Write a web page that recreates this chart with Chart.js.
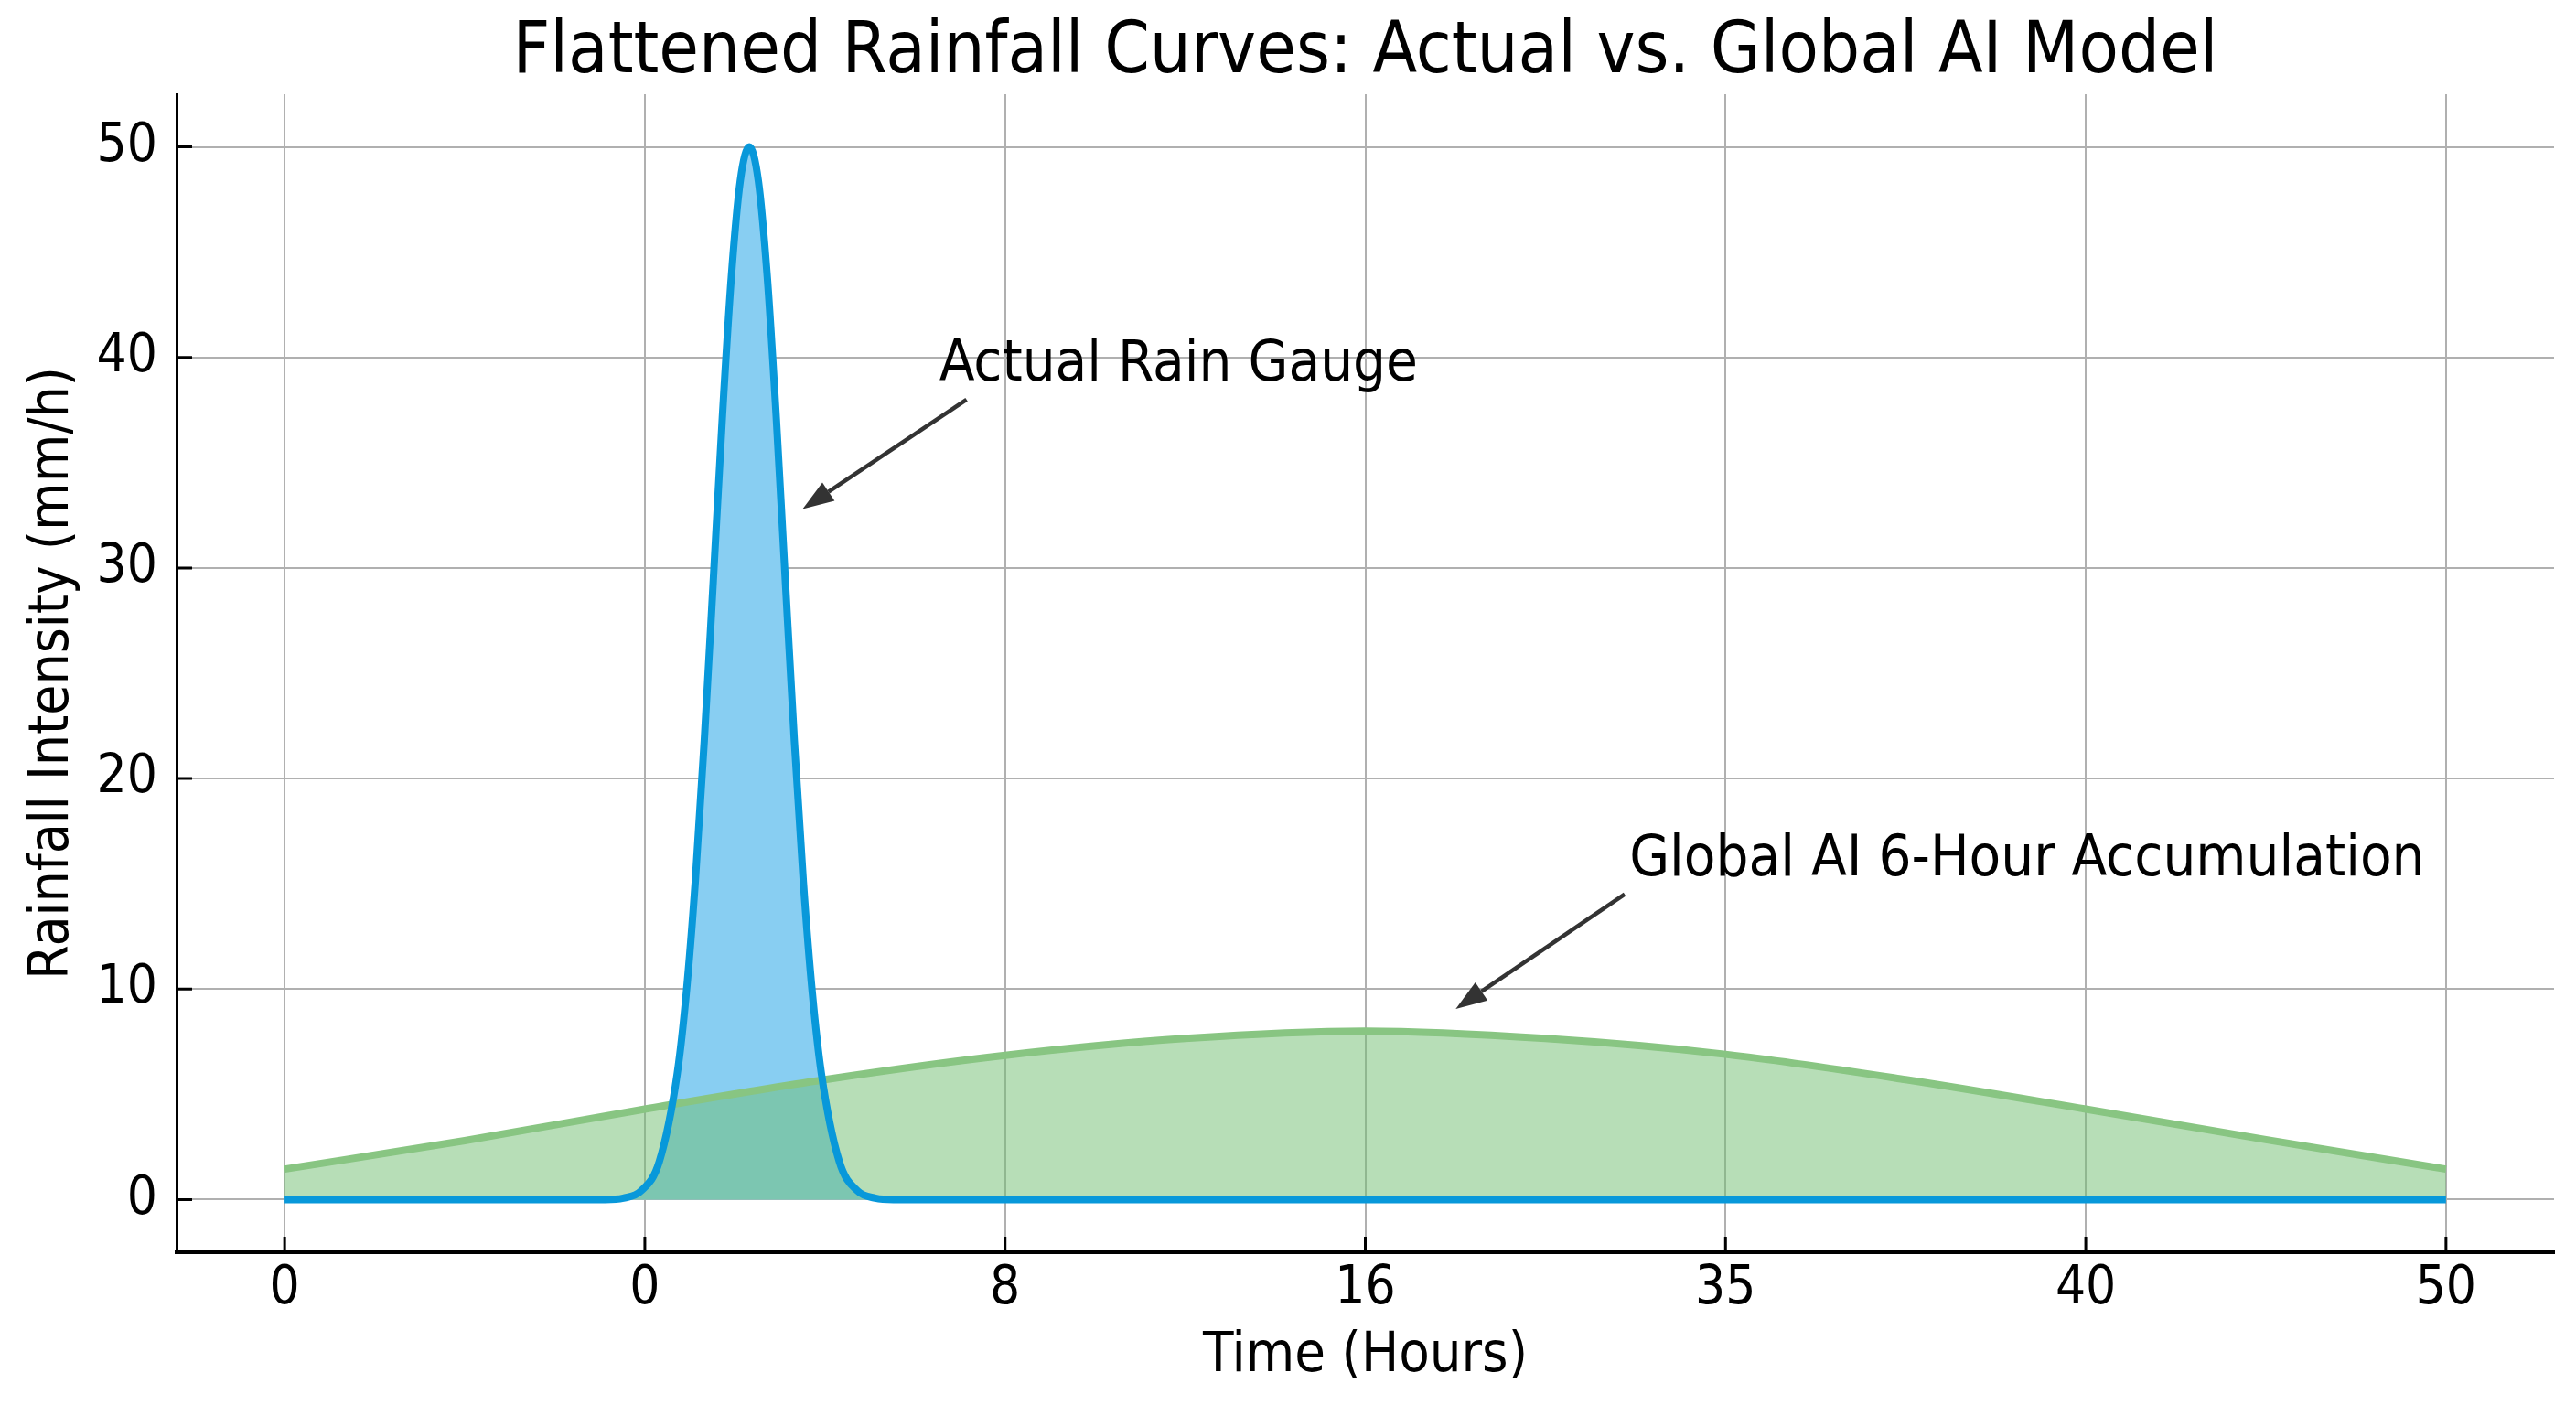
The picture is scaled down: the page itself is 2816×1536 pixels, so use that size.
<!DOCTYPE html>
<html>
<head>
<meta charset="utf-8">
<title>Flattened Rainfall Curves</title>
<script src="https://cdn.jsdelivr.net/npm/chart.js@4.4.1/dist/chart.umd.min.js"></script>
<style>
  html, body { margin: 0; padding: 0; background: #ffffff; }
  canvas { display: block; }
</style>
</head>
<body>
<canvas id="rainChart" width="2816" height="1536"></canvas>
<script>
// x positions are tick slots (0..6); the axis shows the labels below
const xTickLabels = ['0', '0', '8', '16', '35', '40', '50'];
const xTickSlots = [0, 1, 2, 3, 4, 5, 6];
const yTickValues = [0, 10, 20, 30, 40, 50];

// Actual rain gauge - one sharp burst
const gaugeSlot = [0, 0.5, 0.89, 0.94, 0.99, 1.04, 1.09, 1.115, 1.14, 1.165, 1.19, 1.215, 1.24, 1.265,
  1.29, 1.315, 1.34, 1.365, 1.39, 1.415, 1.44, 1.465, 1.49, 1.54, 1.59, 1.64, 1.69, 2, 3, 4, 5, 6];
const gaugeRain = [0, 0, 0, 0.07, 0.42, 1.8, 6.0, 9.8, 15.1, 21.8, 29.4, 37.1, 43.8, 48.4,
  50, 48.4, 43.8, 37.1, 29.4, 21.8, 15.1, 9.8, 6.0, 1.8, 0.42, 0.07, 0, 0, 0, 0, 0, 0];

// Global AI model - flattened 6-hour accumulation
const modelSlot = [0, 0.5, 1, 1.5, 2, 2.5, 3, 3.5, 4, 4.5, 5, 5.5, 6];
const modelRain = [1.45, 2.8, 4.3, 5.7, 6.85, 7.65, 8.0, 7.65, 6.9, 5.7, 4.3, 2.85, 1.45];

const FONT = '"DejaVu Sans Condensed", "DejaVu Sans", sans-serif';

// Text labels with arrows, in data units (slot, mm/h)
const callouts = [
  { text: 'Actual Rain Gauge', at: [1.817, 38.9], from: [1.893, 38.0], to: [1.438, 32.8] },
  { text: 'Global AI 6-Hour Accumulation', at: [3.733, 15.4], from: [3.720, 14.5], to: [3.251, 9.06] },
];

const toPoints = (xs, ys) => xs.map((x, i) => ({ x: x, y: ys[i] }));

// Draw the callout texts and arrows on top of the curves
const calloutPlugin = {
  id: 'callouts',
  afterDatasetsDraw(chart) {
    const ctx = chart.ctx;
    const xs = chart.scales.x;
    const ys = chart.scales.y;
    ctx.save();
    callouts.forEach((c) => {
      ctx.font = '63px ' + FONT;
      ctx.fillStyle = '#000000';
      ctx.textAlign = 'left';
      ctx.textBaseline = 'alphabetic';
      ctx.fillText(c.text, xs.getPixelForValue(c.at[0]), ys.getPixelForValue(c.at[1]));

      const x0 = xs.getPixelForValue(c.from[0]);
      const y0 = ys.getPixelForValue(c.from[1]);
      const x1 = xs.getPixelForValue(c.to[0]);
      const y1 = ys.getPixelForValue(c.to[1]);
      const ang = Math.atan2(y1 - y0, x1 - x0);
      const headLen = 34;
      const headHalf = 12;
      const bx = x1 - headLen * Math.cos(ang);
      const by = y1 - headLen * Math.sin(ang);
      ctx.strokeStyle = '#333333';
      ctx.fillStyle = '#333333';
      ctx.lineWidth = 4.5;
      ctx.beginPath();
      ctx.moveTo(x0, y0);
      ctx.lineTo(bx, by);
      ctx.stroke();
      ctx.beginPath();
      ctx.moveTo(x1, y1);
      ctx.lineTo(bx + headHalf * Math.sin(ang), by - headHalf * Math.cos(ang));
      ctx.lineTo(bx - headHalf * Math.sin(ang), by + headHalf * Math.cos(ang));
      ctx.closePath();
      ctx.fill();
    });
    ctx.restore();
  },
};

// matplotlib-like tick marks pointing into the plot
const innerTicksPlugin = {
  id: 'innerTicks',
  afterDraw(chart) {
    const ctx = chart.ctx;
    const area = chart.chartArea;
    const xs = chart.scales.x;
    const ys = chart.scales.y;
    ctx.save();
    ctx.strokeStyle = '#000000';
    ctx.lineWidth = 3;
    ctx.beginPath();
    xs.ticks.forEach((t) => {
      const px = xs.getPixelForValue(t.value);
      ctx.moveTo(px, area.bottom);
      ctx.lineTo(px, area.bottom - 17);
    });
    ys.ticks.forEach((t) => {
      const py = ys.getPixelForValue(t.value);
      ctx.moveTo(area.left, py);
      ctx.lineTo(area.left + 17, py);
    });
    ctx.stroke();
    ctx.restore();
  },
};

const ctx = document.getElementById('rainChart').getContext('2d');
const rainChart = new Chart(ctx, {
  type: 'line',
  data: {
    datasets: [
      {
        // gauge line, drawn on top of everything
        label: 'Actual Rain Gauge',
        data: toPoints(gaugeSlot, gaugeRain),
        borderColor: '#0898da',
        borderWidth: 8,
        fill: false,
        pointRadius: 0,
        cubicInterpolationMode: 'monotone',
        order: 1,
      },
      {
        label: 'Global AI 6-Hour Accumulation',
        data: toPoints(modelSlot, modelRain),
        borderColor: '#88c582',
        backgroundColor: 'rgba(112, 190, 112, 0.5)',
        borderWidth: 8,
        fill: 'origin',
        pointRadius: 0,
        cubicInterpolationMode: 'monotone',
        order: 2,
      },
      {
        // gauge fill, underneath the model area
        label: 'gauge fill',
        data: toPoints(gaugeSlot, gaugeRain),
        borderWidth: 0,
        borderColor: 'rgba(0,0,0,0)',
        backgroundColor: '#88cef2',
        fill: 'origin',
        pointRadius: 0,
        cubicInterpolationMode: 'monotone',
        order: 3,
      },
    ],
  },
  options: {
    responsive: false,
    devicePixelRatio: 1,
    animation: false,
    layout: { padding: { left: 0, right: 24, top: 0, bottom: 0 } },
    font: { family: FONT },
    plugins: {
      legend: { display: false },
      tooltip: { enabled: false },
      title: {
        display: true,
        text: 'Flattened Rainfall Curves: Actual vs. Global AI Model',
        fullSize: false,
        color: '#000000',
        font: { family: FONT, size: 79, weight: 'normal', lineHeight: 1.0 },
        padding: { top: 19, bottom: 5 },
      },
    },
    scales: {
      x: {
        type: 'linear',
        min: -0.3,
        max: 6.3,
        afterBuildTicks: (axis) => { axis.ticks = xTickSlots.map((v) => ({ value: v })); },
        afterFit: (scale) => { scale.height = 167; },
        ticks: {
          autoSkip: false,
          maxRotation: 0,
          color: '#000000',
          padding: 6,
          font: { family: FONT, size: 58 },
          callback: (value) => xTickLabels[Math.round(value)],
        },
        grid: { color: '#b0b0b0', lineWidth: 2, drawTicks: false },
        border: { display: true, color: '#000000', width: 4 },
        title: {
          display: true,
          text: 'Time (Hours)',
          color: '#000000',
          font: { family: FONT, size: 61, lineHeight: 1.2 },
          padding: { top: 0, bottom: 16 },
        },
      },
      y: {
        type: 'linear',
        min: -2.5,
        max: 52.5,
        afterBuildTicks: (axis) => { axis.ticks = yTickValues.map((v) => ({ value: v })); },
        afterFit: (scale) => { scale.width = 193; },
        ticks: {
          color: '#000000',
          padding: 21,
          font: { family: FONT, size: 58 },
        },
        grid: { color: '#b0b0b0', lineWidth: 2, drawTicks: false },
        border: { display: true, color: '#000000', width: 3 },
        title: {
          display: true,
          text: 'Rainfall Intensity (mm/h)',
          color: '#000000',
          font: { family: FONT, size: 60, lineHeight: 1.2 },
          padding: { top: 22, bottom: 0 },
        },
      },
    },
  },
  plugins: [calloutPlugin, innerTicksPlugin],
});
</script>
</body>
</html>
